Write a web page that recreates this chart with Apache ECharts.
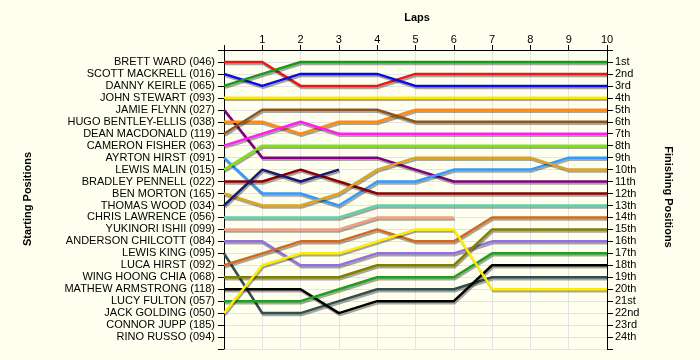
<!DOCTYPE html>
<html>
<head>
<meta charset="utf-8">
<script src="https://cdn.jsdelivr.net/npm/echarts@6/dist/echarts.min.js"></script>
<style>html,body{margin:0;padding:0;background:#FFFFF0;}#c{width:700px;height:360px;}</style>
</head>
<body>
<div id="c"></div>
<script>
const laps = [0,1,2,3,4,5,6,7,8,9,10];
const drivers = [
  'BRETT WARD (046)','SCOTT MACKRELL (016)','DANNY KEIRLE (065)','JOHN STEWART (093)',
  'JAMIE FLYNN (027)','HUGO BENTLEY-ELLIS (038)','DEAN MACDONALD (119)','CAMERON FISHER (063)',
  'AYRTON HIRST (091)','LEWIS MALIN (015)','BRADLEY PENNELL (022)','BEN MORTON (165)',
  'THOMAS WOOD (034)','CHRIS LAWRENCE (056)','YUKINORI ISHII (099)','ANDERSON CHILCOTT (084)',
  'LEWIS KING (095)','LUCA HIRST (092)','WING HOONG CHIA (068)','MATHEW ARMSTRONG (118)',
  'LUCY FULTON (057)','JACK GOLDING (050)','CONNOR JUPP (185)','RINO RUSSO (094)'
];
const finishLabels = ['1st','2nd','3rd','4th','5th','6th','7th','8th','9th','10th','11th','12th',
  '13th','14th','15th','16th','17th','18th','19th','20th','21st','22nd','23rd','24th'];
const colors = ['#E81818','#0A0AE6','#159A1A','#FFE800','#800080','#FF8C10','#8B5523','#FF20F0',
  '#3399FF','#80E020','#8B0000','#DAA520','#191970','#66CDAA','#F0A080','#9370DB',
  '#2F4F4F','#D2691E','#808000','#000000','#1EA01E','#FFEE00',null,null];
// position of each driver at laps 0..10 (null = not running)
const positions = [
  [1,1,3,3,3,2,2,2,2,2,2],
  [2,3,2,2,2,3,3,3,3,3,3],
  [3,2,1,1,1,1,1,1,1,1,1],
  [4,4,4,4,4,4,4,4,4,4,4],
  [5,9,9,9,9,10,11,11,11,11,11],
  [6,6,7,6,6,5,5,5,5,5,5],
  [7,5,5,5,5,6,6,6,6,6,6],
  [8,7,6,7,7,7,7,7,7,7,7],
  [9,12,12,13,11,11,10,10,10,9,9],
  [10,8,8,8,8,8,8,8,8,8,8],
  [11,11,10,11,12,12,12,12,12,12,12],
  [12,13,13,12,10,9,9,9,9,10,10],
  [13,10,11,10,null,null,null,null,null,null,null],
  [14,14,14,14,13,13,13,13,13,13,13],
  [15,15,15,15,14,14,14,null,null,null,null],
  [16,16,18,18,17,17,17,16,16,16,16],
  [17,22,22,21,20,20,20,19,19,19,19],
  [18,17,16,16,15,16,16,14,14,14,14],
  [19,19,19,19,18,18,18,15,15,15,15],
  [20,20,20,22,21,21,21,18,18,18,18],
  [21,21,21,20,19,19,19,17,17,17,17],
  [22,18,17,17,16,15,15,20,20,20,20],
  [],
  []
];

const FONT = 'Liberation Sans, Arial, sans-serif';
const series = positions.map((p, i) => ({
  type: 'line',
  name: drivers[i],
  data: p.map((v, k) => [laps[k], v]).filter(d => d[1] != null),
  symbol: 'none',
  showSymbol: false,
  animation: false,
  silent: true,
  lineStyle: {
    color: colors[i] || '#000',
    width: 2.5,
    shadowColor: 'rgba(0,0,0,0.35)',
    shadowOffsetX: 1,
    shadowOffsetY: 2,
    shadowBlur: 0
  },
  itemStyle: { color: colors[i] || '#000' }
}));

const chart = echarts.init(document.getElementById('c'), null, { renderer: 'canvas' });
const yCommon = {
  type: 'value', inverse: true, min: 0, max: 25, interval: 1,
  axisLine: { show: true, lineStyle: { color: '#000', width: 1 } },
  axisTick: { show: true, length: 6, lineStyle: { color: '#000' } },
  axisLabel: { fontFamily: FONT, fontSize: 11, color: '#000', margin: 9 }
};
chart.setOption({
  backgroundColor: '#FFFFF0',
  animation: false,
  grid: { left: 224, top: 50, width: 383, height: 299 },
  xAxis: {
    type: 'value', position: 'top', min: 0, max: 10, interval: 1,
    axisLine: { show: true, lineStyle: { color: '#000', width: 1 } },
    axisTick: { show: true, length: 5, lineStyle: { color: '#000' } },
    axisLabel: { fontFamily: FONT, fontSize: 11, color: '#000', margin: 5,
      formatter: v => (v === 0 ? '' : String(v)) },
    splitLine: { show: true, lineStyle: { color: '#E4E4E4', width: 1 } }
  },
  yAxis: [
    Object.assign({}, yCommon, {
      position: 'left',
      axisLabel: Object.assign({}, yCommon.axisLabel, { formatter: v => drivers[v - 1] || '' }),
      splitLine: { show: true, lineStyle: { color: '#E4E4E4', width: 1 } }
    }),
    Object.assign({}, yCommon, {
      position: 'right',
      axisLabel: Object.assign({}, yCommon.axisLabel, { margin: 8, formatter: v => finishLabels[v - 1] || '' }),
      splitLine: { show: false }
    })
  ],
  graphic: [
    { type: 'text', x: 417, y: 18, silent: true,
      style: { text: 'Laps', font: 'bold 11px ' + FONT, fill: '#000', align: 'center', verticalAlign: 'middle' } },
    { type: 'text', x: 28, y: 199, rotation: Math.PI / 2, silent: true,
      style: { text: 'Starting Positions', font: 'bold 11px ' + FONT, fill: '#000', align: 'center', verticalAlign: 'middle' } },
    { type: 'text', x: 668, y: 197, rotation: -Math.PI / 2, silent: true,
      style: { text: 'Finishing Positions', font: 'bold 11px ' + FONT, fill: '#000', align: 'center', verticalAlign: 'middle' } }
  ],
  series: series
});
</script>
</body>
</html>
